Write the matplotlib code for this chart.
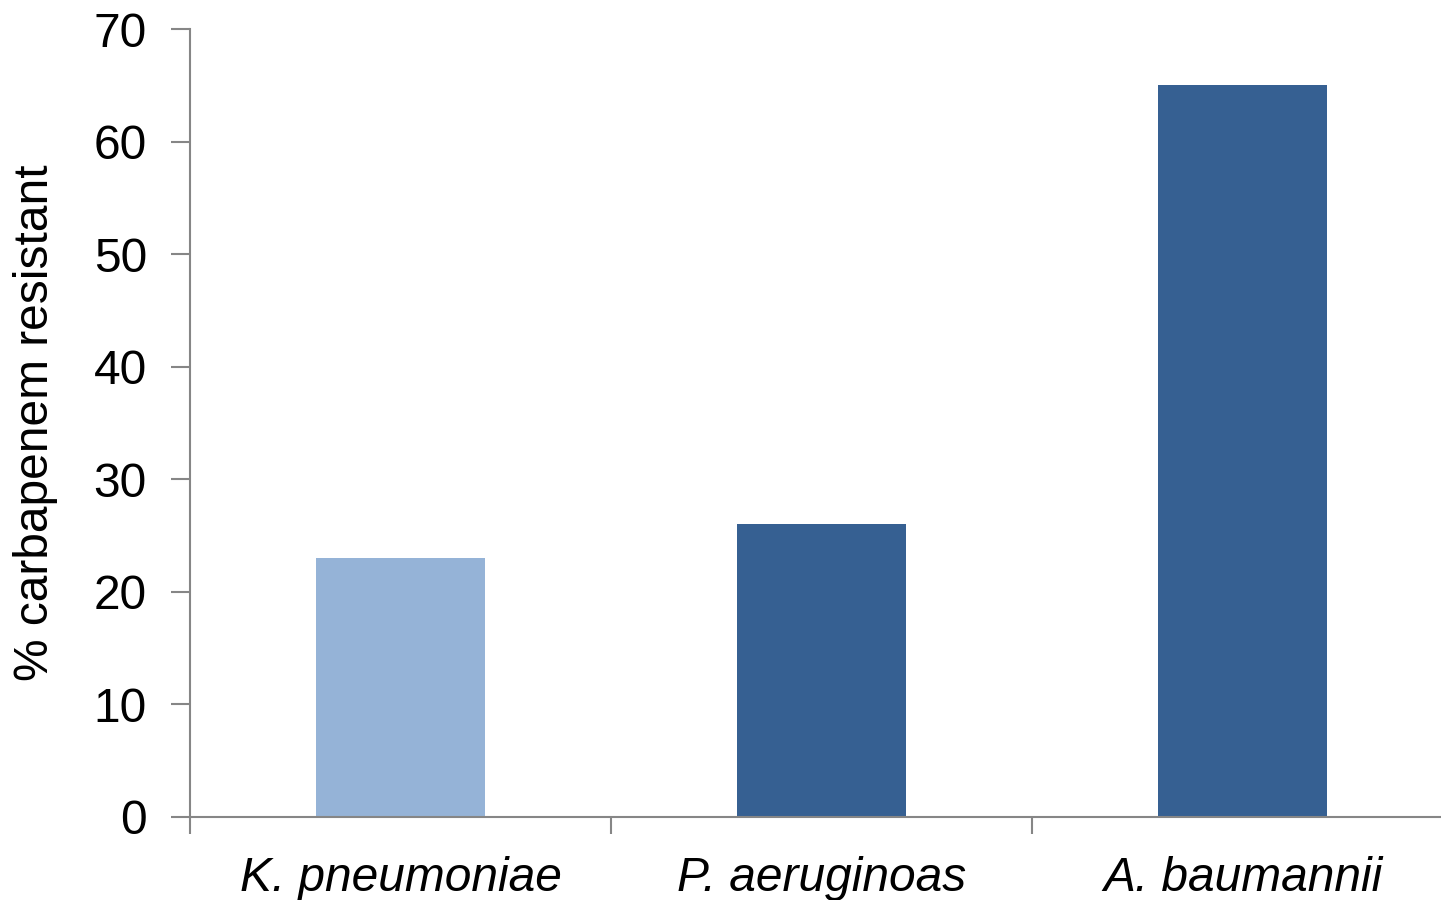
import matplotlib
matplotlib.use("Agg")
import matplotlib.pyplot as plt

species = ["K. pneumoniae", "P. aeruginoas", "A. baumannii"]
resistant = [23, 26, 65]
colors = ["#95B3D7", "#366092", "#366092"]

plt.rcParams['font.family'] = ['Liberation Sans', 'DejaVu Sans']

W, H = 1441, 900
fig = plt.figure(figsize=(W / 100, H / 100), dpi=100)
left, bottom, top = 190, 817, 29
ax = fig.add_axes([left / W, (H - bottom) / H, 1263 / W, (bottom - top) / H])

x = list(range(len(species)))
ax.bar(x, resistant, width=0.4, color=colors, zorder=2)

ax.set_xlim(-0.5, 2.5)
ax.set_ylim(0, 70)
ax.set_yticks(range(0, 71, 10))
ax.set_xticks([-0.5, 0.5, 1.5, 2.5])
ax.set_xticklabels([])
ax.set_xticks(x, minor=True)
ax.set_xticklabels(species, minor=True, fontsize=34.5, style="italic")
ax.tick_params(axis="x", which="minor", length=0, pad=28)
ax.tick_params(axis="x", which="major", length=12, width=1.5, color="#868686", direction="out")
ax.tick_params(axis="y", length=14, width=1.5, color="#868686", labelsize=34.5, pad=17)

for s in ["top", "right"]:
    ax.spines[s].set_visible(False)
for s in ["left", "bottom"]:
    ax.spines[s].set_color("#868686")
    ax.spines[s].set_linewidth(1.5)

ax.set_ylabel("% carbapenem resistant", fontsize=34.5, labelpad=26)

fig.savefig("out.png", dpi=100)
